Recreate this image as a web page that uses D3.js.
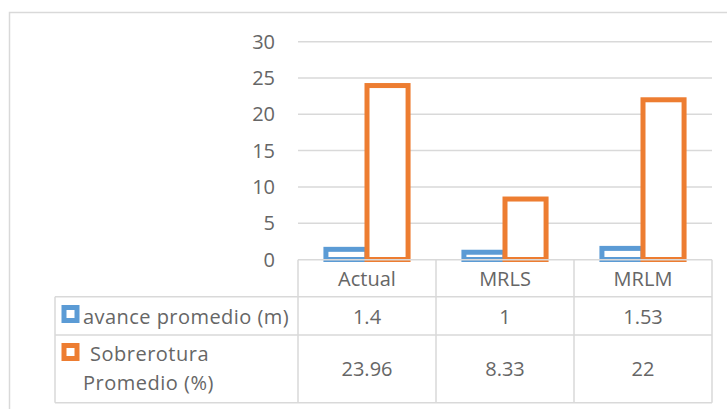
<!DOCTYPE html>
<html><head><meta charset="utf-8">
<script src="https://cdn.jsdelivr.net/npm/d3@7"></script>
<style>body{margin:0;background:#fff}svg{display:block}</style>
</head><body>
<svg id="c" width="727" height="409"></svg>
<script>
const categories = ["Actual", "MRLS", "MRLM"];
const avance = [1.4, 1, 1.53];
const sobrerotura = [23.96, 8.33, 22];
const avanceLabels = ["1.4", "1", "1.53"];
const sobreLabels = ["23.96", "8.33", "22"];
const yTicks = [0, 5, 10, 15, 20, 25, 30];
const seriesNames = [["avance promedio (m)"], ["Sobrerotura", "Promedio (%)"]];

const blue = "#5B9BD5", orange = "#ED7D31", grid = "#D9D9D9", txt = "#666666";
const font = "'Open Sans', sans-serif";
const fs = 20;
const svg = d3.select("#c");

// outer frame
svg.append("path").attr("d", "M9.5,409 V12.5 H727").attr("fill", "none")
  .attr("stroke", grid).attr("stroke-width", 1.5);

const x0 = 298, x1 = 712;
const x = d3.scaleBand().domain(categories).range([x0, x1]);
const y = d3.scaleLinear().domain([0, 30]).range([259.5, 41.7]);

// gridlines
svg.append("g").selectAll("line").data(yTicks.filter(t => t > 0)).join("line")
  .attr("x1", x0).attr("x2", x1).attr("y1", d => y(d)).attr("y2", d => y(d))
  .attr("stroke", grid).attr("stroke-width", 1.5);

// y tick labels
svg.append("g").selectAll("text").data(yTicks).join("text")
  .attr("x", 275).attr("y", d => y(d)).attr("dy", "0.35em").attr("text-anchor", "end")
  .attr("font-family", font).attr("font-size", fs).attr("fill", txt).text(d => d);

// bars
const inner = d3.scaleBand().domain([0, 1]).range([0, x.bandwidth()]).paddingOuter(0.68).paddingInner(0);
const sw = 5;
function drawBars(vals, idx, color) {
  svg.append("g").selectAll("rect").data(categories).join("rect")
    .attr("x", d => x(d) + inner(idx))
    .attr("width", inner.bandwidth())
    .attr("y", (d, i) => y(vals[i]))
    .attr("height", (d, i) => y(0) - y(vals[i]))
    .attr("fill", "#fff").attr("stroke", color).attr("stroke-width", sw);
}
drawBars(avance, 0, blue);
drawBars(sobrerotura, 1, orange);

// table
const tl = 55, rows = [259.8, 296.7, 335, 402.7];
const tg = svg.append("g").attr("stroke", grid).attr("stroke-width", 1.5).attr("fill", "none");
tg.append("line").attr("x1", x0).attr("x2", x1).attr("y1", rows[0]).attr("y2", rows[0]);
rows.slice(1).forEach(r => tg.append("line").attr("x1", tl).attr("x2", x1).attr("y1", r).attr("y2", r));
const vx = [x0].concat(categories.map(c => x(c) + x.bandwidth()));
vx.forEach(v => tg.append("line").attr("x1", v).attr("x2", v).attr("y1", rows[0]).attr("y2", rows[3]));
tg.append("line").attr("x1", tl).attr("x2", tl).attr("y1", rows[1]).attr("y2", rows[3]);

const T = (xx, yy, s, anchor) => svg.append("text").attr("x", xx).attr("y", yy).attr("dy", "0.35em")
  .attr("text-anchor", anchor || "middle").attr("font-family", font).attr("font-size", fs)
  .attr("fill", txt).text(s);

categories.forEach((c, i) => {
  const cx = x(c) + x.bandwidth() / 2;
  T(cx, 278.5, c);
  T(cx, 316.5, avanceLabels[i]);
  T(cx, 368.5, sobreLabels[i]);
});

// legend keys
function key(yy, color) {
  svg.append("rect").attr("x", 64).attr("y", yy + 2).attr("width", 13).attr("height", 13)
    .attr("fill", "#fff").attr("stroke", color).attr("stroke-width", 5);
}
key(305.5, blue);
key(343.5, orange);
T(83, 316.5, seriesNames[0][0], "start").attr("letter-spacing", 0.45);
T(90, 354, seriesNames[1][0], "start").attr("letter-spacing", 0.5);
T(83, 383, seriesNames[1][1], "start").attr("letter-spacing", 0.5);
</script>
</body></html>
